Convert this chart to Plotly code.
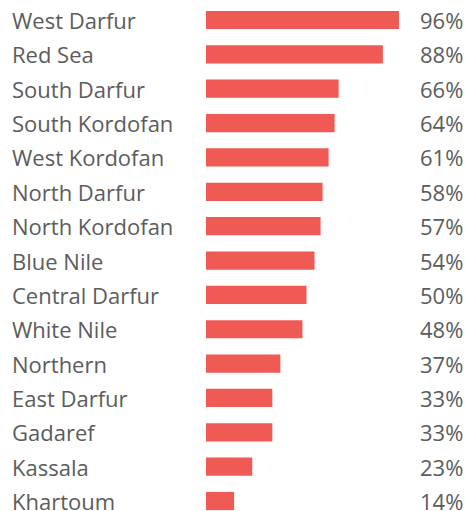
import plotly.graph_objects as go

regions = ["West Darfur", "Red Sea", "South Darfur", "South Kordofan", "West Kordofan",
           "North Darfur", "North Kordofan", "Blue Nile", "Central Darfur", "White Nile",
           "Northern", "East Darfur", "Gadaref", "Kassala", "Khartoum"]
values = [96, 88, 66, 64, 61, 58, 57, 54, 50, 48, 37, 33, 33, 23, 14]
pct_labels = [f"{v}%" for v in values]

W, H = 470, 511
bar_color = "#F05A55"
text_color = "#5c5c5c"
font_family = "Open Sans, Noto Sans, sans-serif"
fsize = 22

fig = go.Figure()
fig.add_trace(go.Bar(
    x=values, y=regions, orientation="h",
    marker=dict(color=bar_color, line=dict(width=0)),
    width=0.53, hoverinfo="skip",
))

annotations = []
for r, p in zip(regions, pct_labels):
    annotations.append(dict(x=10 / W, xref="paper", y=r, yref="y", text=r,
                            xanchor="left", yanchor="middle", showarrow=False,
                            font=dict(size=fsize, color=text_color, family=font_family)))
    annotations.append(dict(x=465 / W, xref="paper", y=r, yref="y", text=p,
                            xanchor="right", yanchor="middle", showarrow=False,
                            font=dict(size=fsize, color=text_color, family=font_family)))

px_per = 2.01
x0 = 206
row0, step = 20, 34.36
fig.update_layout(
    width=W, height=H,
    margin=dict(l=0, r=0, t=0, b=0),
    paper_bgcolor="white", plot_bgcolor="white",
    showlegend=False,
    xaxis=dict(range=[-x0 / px_per, (W - x0) / px_per], visible=False, fixedrange=True),
    yaxis=dict(type="category", categoryorder="array", categoryarray=regions,
               range=[(H - row0) / step, -row0 / step], visible=False, fixedrange=True),
    annotations=annotations,
)
fig.write_html("out.html", config={"displayModeBar": False},
               post_script="document.body.style.margin='0';document.body.style.overflow='hidden';")
